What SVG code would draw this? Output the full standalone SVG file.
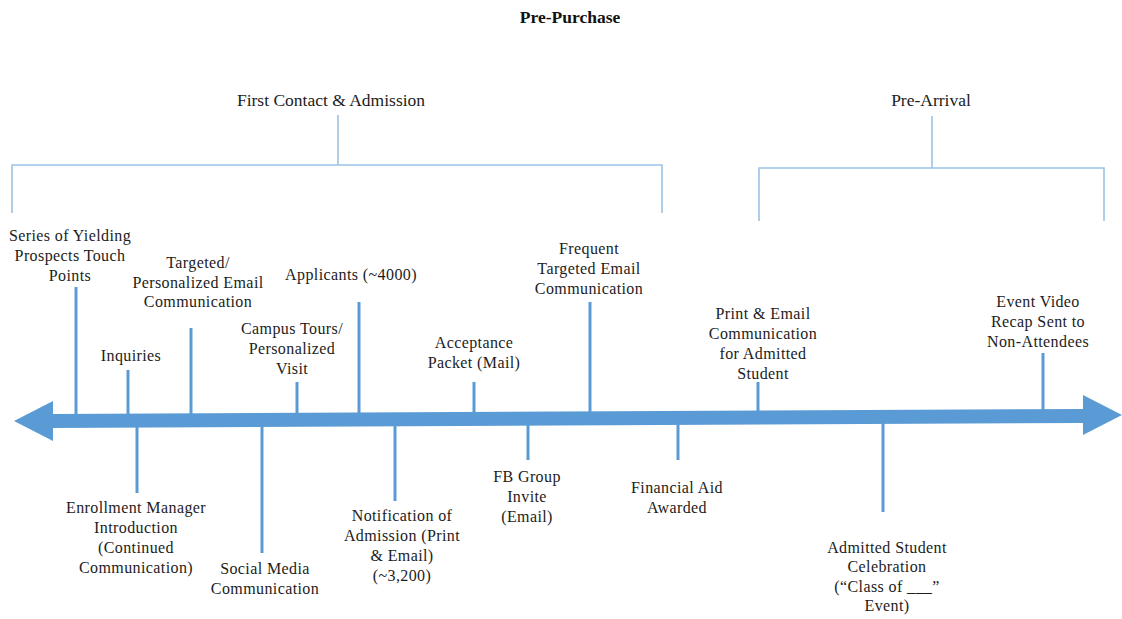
<svg xmlns="http://www.w3.org/2000/svg" width="1122" height="619" viewBox="0 0 1122 619">
  <style>
    .lbl { font-family: "Liberation Serif", "Times New Roman", serif; font-size: 16px; letter-spacing: 0.4px; fill: #1c1c1c; text-anchor: middle; }
    .hdr { font-family: "Liberation Serif", "Times New Roman", serif; font-size: 17.5px; fill: #1c1c1c; text-anchor: middle; }
    .ttl { font-family: "Liberation Serif", "Times New Roman", serif; font-size: 17.5px; font-weight: bold; fill: #111; text-anchor: middle; }
    .brk { fill: none; stroke: #9dc3e6; stroke-width: 1.6; }
    .tick { stroke: #5b9bd5; stroke-width: 3; }
  </style>
  <rect width="1122" height="619" fill="#ffffff"/>

  <text id="title" class="ttl" x="570" y="23">Pre-Purchase</text>

  <!-- phase brackets -->
  <g id="phase-first-contact">
    <text class="hdr" x="331" y="106">First Contact &amp; Admission</text>
    <path class="brk" d="M338 115 V165 M12 213 V165 H662 V213"/>
  </g>
  <g id="phase-pre-arrival">
    <text class="hdr" x="931" y="106">Pre-Arrival</text>
    <path class="brk" d="M932 116 V168 M759 221 V168 H1104 V221"/>
  </g>

  <!-- timeline ticks and axis -->
  <g id="connectors">
    <line class="tick" x1="76" y1="287" x2="76" y2="420"/>
    <line class="tick" x1="128" y1="370" x2="128" y2="420"/>
    <line class="tick" x1="191" y1="328" x2="191" y2="420"/>
    <line class="tick" x1="297" y1="382" x2="297" y2="420"/>
    <line class="tick" x1="359" y1="302" x2="359" y2="420"/>
    <line class="tick" x1="474" y1="382" x2="474" y2="420"/>
    <line class="tick" x1="590" y1="302" x2="590" y2="418"/>
    <line class="tick" x1="758" y1="382" x2="758" y2="418"/>
    <line class="tick" x1="1043" y1="353" x2="1043" y2="416"/>

    <line class="tick" x1="137" y1="420" x2="137" y2="493"/>
    <line class="tick" x1="262" y1="420" x2="262" y2="553"/>
    <line class="tick" x1="395" y1="419" x2="395" y2="501"/>
    <line class="tick" x1="528" y1="419" x2="528" y2="460"/>
    <line class="tick" x1="678" y1="418" x2="678" y2="460"/>
    <line class="tick" x1="883" y1="417" x2="883" y2="512"/>

    <polygon id="axis" fill="#5b9bd5"
      points="14,421 53,401 53,414 1083,409 1083,395 1122,415 1083,435 1083,423 53,428 53,441"/>
  </g>

  <!-- events above the axis -->
  <g id="ev-yielding"><text class="lbl" x="70"><tspan x="70" y="241">Series of Yielding</tspan><tspan x="70" y="261">Prospects Touch</tspan><tspan x="70" y="281">Points</tspan></text></g>
  <g id="ev-inquiries"><text class="lbl" x="131" y="361">Inquiries</text></g>
  <g id="ev-targeted"><text class="lbl" x="198"><tspan x="198" y="268">Targeted/</tspan><tspan x="198" y="287.5">Personalized Email</tspan><tspan x="198" y="307">Communication</tspan></text></g>
  <g id="ev-campus"><text class="lbl" x="292"><tspan x="292" y="334">Campus Tours/</tspan><tspan x="292" y="354">Personalized</tspan><tspan x="292" y="374">Visit</tspan></text></g>
  <g id="ev-applicants"><text class="lbl" x="351" y="280">Applicants (~4000)</text></g>
  <g id="ev-acceptance"><text class="lbl" x="474"><tspan x="474" y="348">Acceptance</tspan><tspan x="474" y="368">Packet (Mail)</tspan></text></g>
  <g id="ev-frequent"><text class="lbl" x="589"><tspan x="589" y="254">Frequent</tspan><tspan x="589" y="274">Targeted Email</tspan><tspan x="589" y="294">Communication</tspan></text></g>
  <g id="ev-print-email"><text class="lbl" x="763"><tspan x="763" y="319">Print &amp; Email</tspan><tspan x="763" y="339">Communication</tspan><tspan x="763" y="359">for Admitted</tspan><tspan x="763" y="379">Student</tspan></text></g>
  <g id="ev-video"><text class="lbl" x="1038"><tspan x="1038" y="307">Event Video</tspan><tspan x="1038" y="327">Recap Sent to</tspan><tspan x="1038" y="347">Non-Attendees</tspan></text></g>

  <!-- events below the axis -->
  <g id="ev-enrollment"><text class="lbl" x="136"><tspan x="136" y="513">Enrollment Manager</tspan><tspan x="136" y="533">Introduction</tspan><tspan x="136" y="553">(Continued</tspan><tspan x="136" y="573">Communication)</tspan></text></g>
  <g id="ev-social"><text class="lbl" x="265"><tspan x="265" y="574">Social Media</tspan><tspan x="265" y="594">Communication</tspan></text></g>
  <g id="ev-notification"><text class="lbl" x="402"><tspan x="402" y="521">Notification of</tspan><tspan x="402" y="541">Admission (Print</tspan><tspan x="402" y="561">&amp; Email)</tspan><tspan x="402" y="581">(~3,200)</tspan></text></g>
  <g id="ev-fb"><text class="lbl" x="527"><tspan x="527" y="482">FB Group</tspan><tspan x="527" y="502">Invite</tspan><tspan x="527" y="522">(Email)</tspan></text></g>
  <g id="ev-aid"><text class="lbl" x="677"><tspan x="677" y="493">Financial Aid</tspan><tspan x="677" y="513">Awarded</tspan></text></g>
  <g id="ev-celebration"><text class="lbl" x="887"><tspan x="887" y="553">Admitted Student</tspan><tspan x="887" y="572">Celebration</tspan><tspan x="887" y="592">(“Class of ___”</tspan><tspan x="887" y="611">Event)</tspan></text></g>
</svg>
